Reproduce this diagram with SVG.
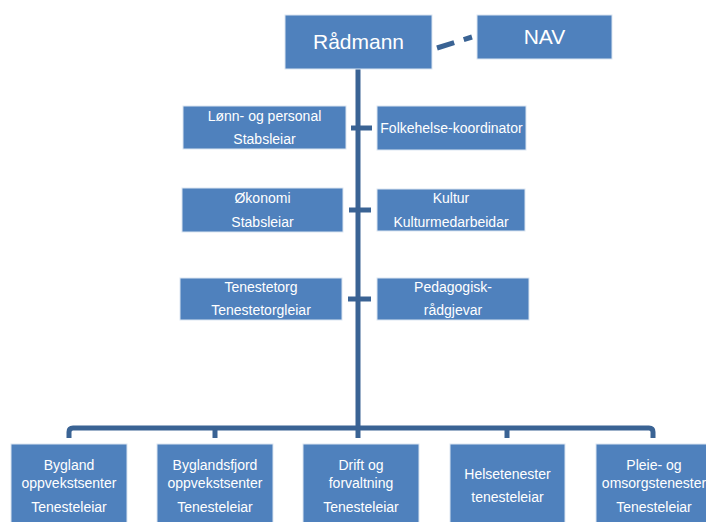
<svg xmlns="http://www.w3.org/2000/svg" width="706" height="522" viewBox="0 0 706 522">
<style>
.box{fill:#4f81bd;stroke:#dbe5f1;stroke-width:1}
.t{font-family:"Liberation Sans",Arial,sans-serif;fill:#fff;text-anchor:middle;font-size:14px}
.big{font-size:21px}
.c{stroke:#3a6394;fill:none;stroke-width:5}
</style>
<rect width="706" height="522" fill="#fff"/>
<g id="connectors">
<line class="c" x1="358" y1="69" x2="358" y2="428"/>
<line class="c" x1="351" y1="128" x2="372" y2="128"/>
<line class="c" x1="349" y1="210" x2="371" y2="210"/>
<line class="c" x1="348" y1="299" x2="371" y2="299"/>
<path class="c" d="M69,438 V432 Q69,428 73,428 H649 Q653,428 653,432 V438"/>
<line class="c" x1="215" y1="428" x2="215" y2="438"/>
<line class="c" x1="358" y1="428" x2="358" y2="438"/>
<line class="c" x1="507" y1="428" x2="507" y2="438"/>
<line class="c" x1="437" y1="48" x2="472" y2="37" stroke-dasharray="18,10"/>
</g>
<g id="radmann"><rect class="box" x="285" y="15" width="147" height="54"/><text class="t big" x="358.5" y="49">Rådmann</text></g>
<g id="nav"><rect class="box" x="477" y="15" width="135" height="44"/><text class="t big" x="544.5" y="44">NAV</text></g>
<g id="lonn"><rect class="box" x="183" y="106" width="163" height="43"/><text class="t" x="264.5" y="121">Lønn- og personal</text><text class="t" x="264.5" y="144">Stabsleiar</text></g>
<g id="folkehelse"><rect class="box" x="377" y="106" width="149" height="44"/><text class="t" x="451.5" y="133">Folkehelse-koordinator</text></g>
<g id="okonomi"><rect class="box" x="182" y="188" width="161" height="44"/><text class="t" x="262.5" y="203">Økonomi</text><text class="t" x="262.5" y="227">Stabsleiar</text></g>
<g id="kultur"><rect class="box" x="377" y="189" width="148" height="42"/><text class="t" x="451" y="203">Kultur</text><text class="t" x="451" y="227">Kulturmedarbeidar</text></g>
<g id="tenestetorg"><rect class="box" x="180" y="278" width="162" height="42"/><text class="t" x="261" y="292">Tenestetorg</text><text class="t" x="261" y="315">Tenestetorgleiar</text></g>
<g id="pedagogisk"><rect class="box" x="377" y="278" width="152" height="42"/><text class="t" x="453" y="292">Pedagogisk-</text><text class="t" x="453" y="315">rådgjevar</text></g>
<g id="bygland"><rect class="box" x="11" y="444" width="116" height="82"/><text class="t" x="69" y="470">Bygland</text><text class="t" x="69" y="488">oppvekstsenter</text><text class="t" x="69" y="512">Tenesteleiar</text></g>
<g id="byglandsfjord"><rect class="box" x="157" y="444" width="116" height="82"/><text class="t" x="215" y="470">Byglandsfjord</text><text class="t" x="215" y="488">oppvekstsenter</text><text class="t" x="215" y="512">Tenesteleiar</text></g>
<g id="drift"><rect class="box" x="303" y="444" width="116" height="82"/><text class="t" x="361" y="470">Drift og</text><text class="t" x="361" y="488">forvaltning</text><text class="t" x="361" y="512">Tenesteleiar</text></g>
<g id="helse"><rect class="box" x="450" y="444" width="115" height="82"/><text class="t" x="507.5" y="479">Helsetenester</text><text class="t" x="507.5" y="502">tenesteleiar</text></g>
<g id="pleie"><rect class="box" x="596" y="444" width="116" height="82"/><text class="t" x="654" y="470">Pleie- og</text><text class="t" x="654" y="488">omsorgstenester</text><text class="t" x="654" y="512">Tenesteleiar</text></g>
</svg>
